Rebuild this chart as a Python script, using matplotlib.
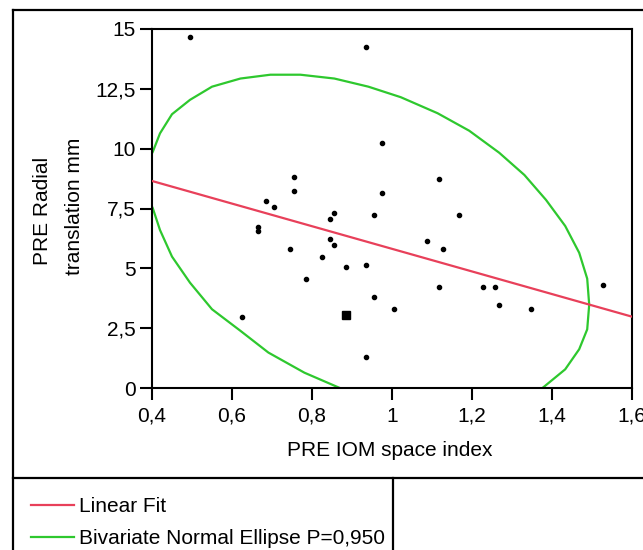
import matplotlib
matplotlib.use("Agg")
import matplotlib.pyplot as plt
from matplotlib.lines import Line2D
from matplotlib.ticker import FixedLocator, FuncFormatter

# scatter points (PRE IOM space index, PRE radial translation mm)
iom_index = [0.495, 0.936, 0.976, 0.756, 0.756, 0.976, 1.117, 0.686, 0.706, 0.856,
             0.846, 0.956, 0.666, 0.666, 0.846, 0.856, 0.746, 0.826, 0.886, 0.936,
             0.786, 0.956, 1.006, 0.626, 0.936, 1.167, 1.087, 1.127, 1.117, 1.227,
             1.257, 1.267, 1.347, 1.528]
radial_mm = [14.68, 14.26, 10.25, 8.83, 8.25, 8.16, 8.75, 7.83, 7.58, 7.33,
             7.08, 7.24, 6.74, 6.57, 6.24, 5.99, 5.82, 5.49, 5.07, 5.15,
             4.57, 3.82, 3.31, 2.98, 1.31, 7.24, 6.16, 5.82, 4.23, 4.23,
             4.23, 3.48, 3.31, 4.32]

# overlapping points drawn as a larger square
overlap_x = [0.886]
overlap_y = [3.06]

# linear fit end points
fit_x = [0.4, 1.6]
fit_y = [8.65, 2.98]

# 95% ellipse outline, two visible pieces
ell_upper_x = [0.395, 0.402, 0.420, 0.450, 0.495, 0.550, 0.621, 0.696, 0.771, 0.856,
               0.941, 1.022, 1.114, 1.193, 1.268, 1.331, 1.385, 1.433, 1.468, 1.488,
               1.493, 1.488, 1.468, 1.433, 1.382, 1.365]
ell_upper_y = [9.65, 9.87, 10.64, 11.44, 12.04, 12.59, 12.93, 13.09, 13.09, 12.93,
               12.59, 12.15, 11.48, 10.75, 9.83, 8.90, 7.86, 6.77, 5.65, 4.57,
               3.48, 2.45, 1.62, 0.78, 0.08, -0.15]
ell_lower_x = [0.395, 0.402, 0.420, 0.450, 0.495, 0.550, 0.621, 0.691, 0.781, 0.871, 0.89]
ell_lower_y = [7.75, 7.51, 6.60, 5.49, 4.40, 3.29, 2.39, 1.48, 0.64, -0.01, -0.1]

x_ticks = [0.4, 0.6, 0.8, 1.0, 1.2, 1.4, 1.6]
y_ticks = [0, 2.5, 5, 7.5, 10, 12.5, 15]

RED = "#e8405a"
GREEN = "#2ec82e"
W, H = 643, 550

plt.rcParams["font.family"] = ["Liberation Sans", "DejaVu Sans"]


def fx(px):
    return px / W


def fy(py):
    return 1 - py / H


def comma(v, _pos):
    return f"{v:g}".replace(".", ",")


fig = plt.figure(figsize=(W / 100, H / 100), dpi=100)
ax = fig.add_axes([fx(152), fy(388), (632 - 152) / W, (388 - 29) / H])

ax.plot(ell_upper_x, ell_upper_y, color=GREEN, lw=1.6, zorder=2)
ax.plot(ell_lower_x, ell_lower_y, color=GREEN, lw=1.6, zorder=2)
ax.plot(fit_x, fit_y, color=RED, lw=1.6, zorder=3)
ax.plot(iom_index, radial_mm, "o", color="black", ms=3.0, zorder=4)
ax.plot(overlap_x, overlap_y, "s", color="black", ms=5.5, zorder=4)

ax.set_xlim(0.4, 1.6)
ax.set_ylim(0, 15)
ax.xaxis.set_major_locator(FixedLocator(x_ticks))
ax.yaxis.set_major_locator(FixedLocator(y_ticks))
ax.xaxis.set_major_formatter(FuncFormatter(comma))
ax.yaxis.set_major_formatter(FuncFormatter(comma))
ax.tick_params(direction="out", length=8.5, width=1.5, labelsize=15, colors="black")
ax.tick_params(axis="x", pad=5)
ax.tick_params(axis="y", pad=3)
for sp in ax.spines.values():
    sp.set_linewidth(1.5)
    sp.set_color("black")

# two-line y label, each line placed on its own
fig.text(fx(42), fy(211), "PRE Radial", rotation=90, ha="center", va="center", fontsize=15)
fig.text(fx(74), fy(206), "translation mm", rotation=90, ha="center", va="center", fontsize=15)
fig.text(fx(390), fy(451), "PRE IOM space index", ha="center", va="center", fontsize=15)

# outer frame and legend box
frame = dict(color="black", lw=1.6, transform=fig.transFigure)
fig.add_artist(Line2D([fx(13), 1.0], [fy(10), fy(10)], **frame))
fig.add_artist(Line2D([fx(13), fx(13)], [fy(10), 0.0], **frame))
fig.add_artist(Line2D([fx(13), 1.0], [fy(478), fy(478)], **frame))
fig.add_artist(Line2D([fx(393), fx(393)], [fy(478), 0.0], **frame))

legend_rows = [("Linear Fit", RED, 505), ("Bivariate Normal Ellipse P=0,950", GREEN, 537)]
for label, col, py in legend_rows:
    fig.add_artist(Line2D([fx(31), fx(74)], [fy(py), fy(py)], color=col, lw=1.6,
                          transform=fig.transFigure))
    fig.text(fx(79), fy(py + 1), label, ha="left", va="center", fontsize=15)

fig.savefig("out.png", dpi=100)
